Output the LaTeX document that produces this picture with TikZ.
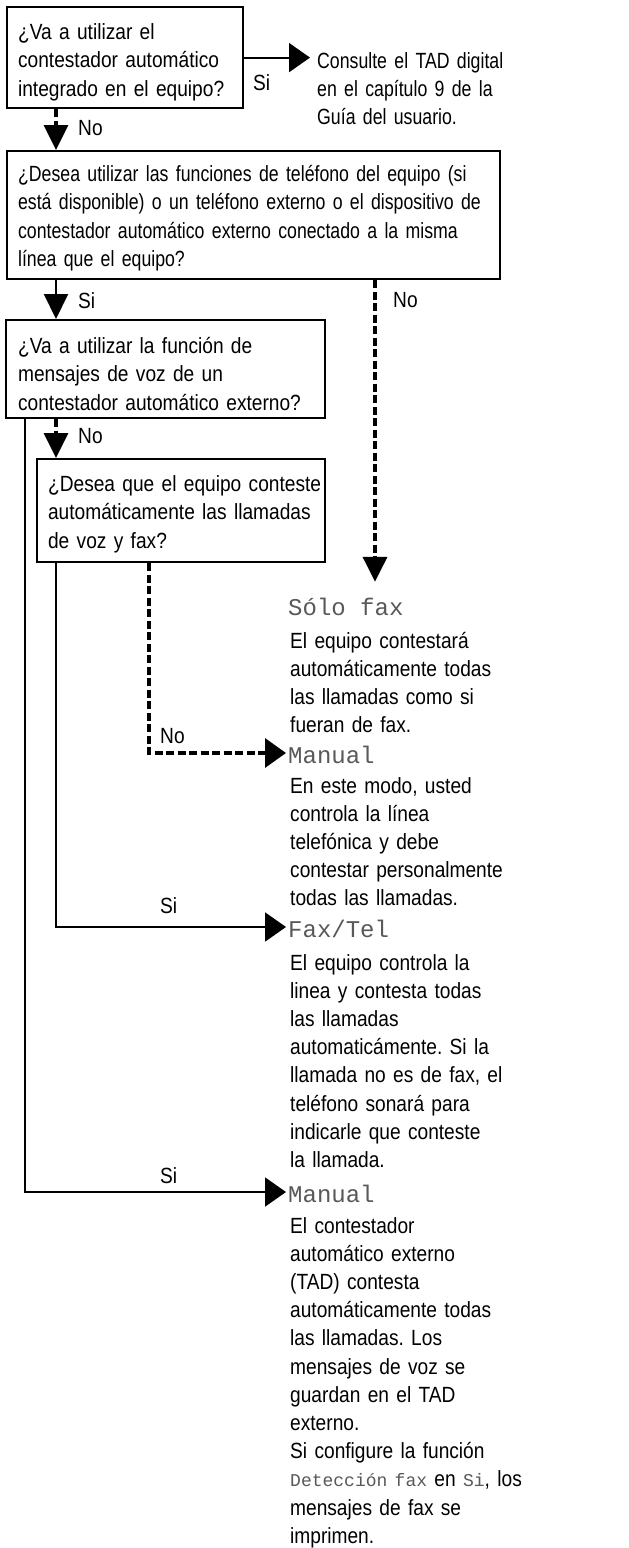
\documentclass[tikz,border=0pt]{standalone}
\usepackage{fontspec}
\setmainfont{Liberation Sans}[FakeStretch=0.87]
\newfontfamily\narrowfont{Liberation Sans}[FakeStretch=0.805]
\newfontfamily\lcd{Liberation Mono}
\usetikzlibrary{arrows.meta}
\newcommand\lcdsmall[1]{{\lcd\fontsize{18}{18}\selectfont\color{black!65}#1}}
\frenchspacing
\begin{document}
\begin{tikzpicture}[x=1pt,y=-1pt,
  box/.style={draw, line width=2.2pt, anchor=north west, inner ysep=0pt, align=left, font=\fontsize{22}{28.5}\selectfont},
  body/.style={anchor=base west, inner sep=0pt, text width=330pt, align=left, font=\fontsize{22}{28.2}\selectfont},
  hdr/.style={anchor=base west, inner xsep=2pt, inner ysep=0pt, text height=20pt, text depth=0pt, font=\lcd\fontsize{24}{24}\selectfont, text=black!65},
  lbl/.style={anchor=base west, inner sep=0pt, font=\fontsize{22}{26}\selectfont},
  conn/.style={line width=2pt},
  dconn/.style={line width=3.5pt, dash pattern=on 8pt off 3.5pt},
  vtip/.style={-{Triangle[length=25pt,width=24pt]}},
  htip/.style={-{Triangle[length=21pt,width=29pt]}}
]
\fill[white] (0,0) rectangle (629,1548);
\useasboundingbox (0,0) rectangle (629,1548);

% column coordinates
\coordinate (cA) at (56,0);
\coordinate (cB) at (375,0);
\coordinate (cC) at (25,0);
\coordinate (cD) at (149,0);

% question boxes
\node[box, inner xsep=11pt, text width=214pt, text height=32pt, text depth=69pt] (q1) at (6,6)
  {\mbox{¿Va a utilizar el}\\\mbox{contestador automático}\\\mbox{integrado en el equipo?}};
\node[box, inner xsep=11pt, text width=471pt, text height=30pt, text depth=98pt, font=\narrowfont\fontsize{22}{28.5}\selectfont] (q2) at (6,150)
  {\mbox{¿Desea utilizar las funciones de teléfono del equipo (si}\\\mbox{está disponible) o un teléfono externo o el dispositivo de}\\\mbox{contestador automático externo conectado a la misma}\\\mbox{línea que el equipo?}};
\node[box, inner xsep=12pt, text width=295pt, text height=33pt, text depth=65pt] (q3) at (5,319)
  {\mbox{¿Va a utilizar la función de}\\\mbox{mensajes de voz de un}\\\mbox{contestador automático externo?}};
\node[box, inner xsep=11pt, text width=266pt, text height=32pt, text depth=71pt] (q4) at (36,458)
  {\mbox{¿Desea que el equipo conteste}\\\mbox{automáticamente las llamadas}\\\mbox{de voz y fax?}};

% outcome texts
\node[body, inner xsep=7pt, font=\narrowfont\fontsize{22}{28.2}\selectfont] (cons) at (310,68)
  {Consulte el TAD digital\\en el capítulo 9 de la\\Guía del usuario.};

\node[hdr, inner ysep=13pt] (sf) at (286,615) {Sólo fax};
\node[body] (b1) at (290,648)
  {El equipo contestará\\automáticamente todas\\las llamadas como si\\fueran de fax.};

\node[hdr] (m1) at (286,763) {Manual};
\node[body] (b2) at (290,793)
  {En este modo, usted\\controla la línea\\telefónica y debe\\contestar personalmente\\todas las llamadas.};

\node[hdr] (ft) at (286,937) {Fax/Tel};
\node[body] (b3) at (290,970)
  {El equipo controla la\\linea y contesta todas\\las llamadas\\automaticámente. Si la\\llamada no es de fax, el\\teléfono sonará para\\indicarle que conteste\\la llamada.};

\node[hdr] (m2) at (286,1202) {Manual};
\node[body] (b4) at (290,1233)
  {El contestador\\automático externo\\(TAD) contesta\\automáticamente todas\\las llamadas. Los\\mensajes de voz se\\guardan en el TAD\\externo.\\Si configure la función\\\lcdsmall{Detección fax} en \lcdsmall{Si}, los\\mensajes de fax se\\imprimen.};

% connectors
\draw[conn, htip] (q1.east) -- (q1.east -| cons.west);
\draw[dconn, vtip] (q1.south -| cA) -- (q2.north -| cA);
\draw[conn, vtip] (q2.south -| cA) -- (q3.north -| cA);
\draw[dconn, vtip] (q2.south -| cB) -- (sf.north -| cB);
\draw[dconn, vtip] (q3.south -| cA) -- (q4.north -| cA);
\draw[conn, htip] (q3.south -| cC) |- (m2.west);
\draw[conn, htip] (q4.south -| cA) |- (ft.west);
\draw[dconn, htip] (q4.south -| cD) |- (m1.west);

% labels
\node[lbl] (l1) at (253,90) {Si};
\node[lbl] (l2) at (78,135) {No};
\node[lbl] (l3) at (78,308) {Si};
\node[lbl] (l4) at (393,307) {No};
\node[lbl] (l5) at (78,443) {No};
\node[lbl] (l6) at (160,743) {No};
\node[lbl] (l7) at (160,913) {Si};
\node[lbl] (l8) at (160,1183) {Si};
\end{tikzpicture}
\end{document}
